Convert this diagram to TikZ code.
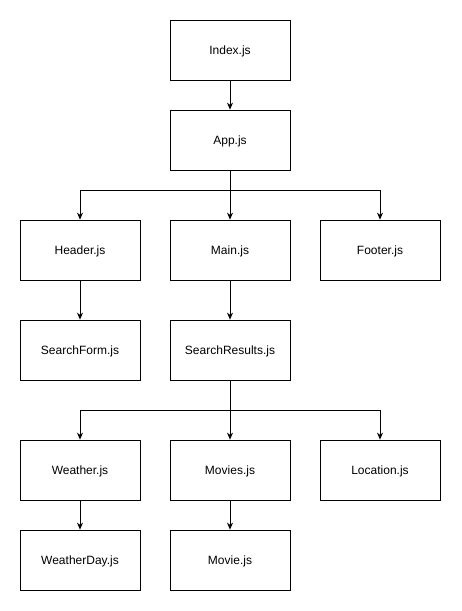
\documentclass[tikz,border=0pt]{standalone}
\usepackage{fontspec}
\setmainfont{Liberation Sans}
\usetikzlibrary{arrows.meta}
\begin{document}
\begin{tikzpicture}[x=1pt,y=-1pt,
  box/.style={draw,line width=0.8pt,minimum width=120pt,minimum height=60pt,inner sep=0pt,text height=8.5pt,text depth=0pt,font=\fontsize{12pt}{14pt}\selectfont},
  conn/.style={line width=0.8pt,-{Stealth[length=7pt,width=6pt]}}]
\useasboundingbox (0,0) rectangle (461,611);
\node[box] (index) at (230,50) {Index.js};
\node[box] (app) at (230,140) {App.js};
\node[box] (header) at (80,250) {Header.js};
\node[box] (main) at (230,250) {Main.js};
\node[box] (footer) at (380,250) {Footer.js};
\node[box] (sform) at (80,350) {SearchForm.js};
\node[box] (sres) at (230,350) {SearchResults.js};
\node[box] (weather) at (80,470) {Weather.js};
\node[box] (movies) at (230,470) {Movies.js};
\node[box] (location) at (380,470) {Location.js};
\node[box] (wday) at (80,560) {WeatherDay.js};
\node[box] (movie) at (230,560) {Movie.js};
\coordinate (b1) at (230,190);
\coordinate (b2) at (230,410);
\draw[conn] (index) -- (app);
\draw[conn] (app) -- (main);
\draw[conn] (app.south) |- (b1) -| (header.north);
\draw[conn] (app.south) |- (b1) -| (footer.north);
\draw[conn] (header) -- (sform);
\draw[conn] (main) -- (sres);
\draw[conn] (sres) -- (movies);
\draw[conn] (sres.south) |- (b2) -| (weather.north);
\draw[conn] (sres.south) |- (b2) -| (location.north);
\draw[conn] (weather) -- (wday);
\draw[conn] (movies) -- (movie);
\end{tikzpicture}
\end{document}
